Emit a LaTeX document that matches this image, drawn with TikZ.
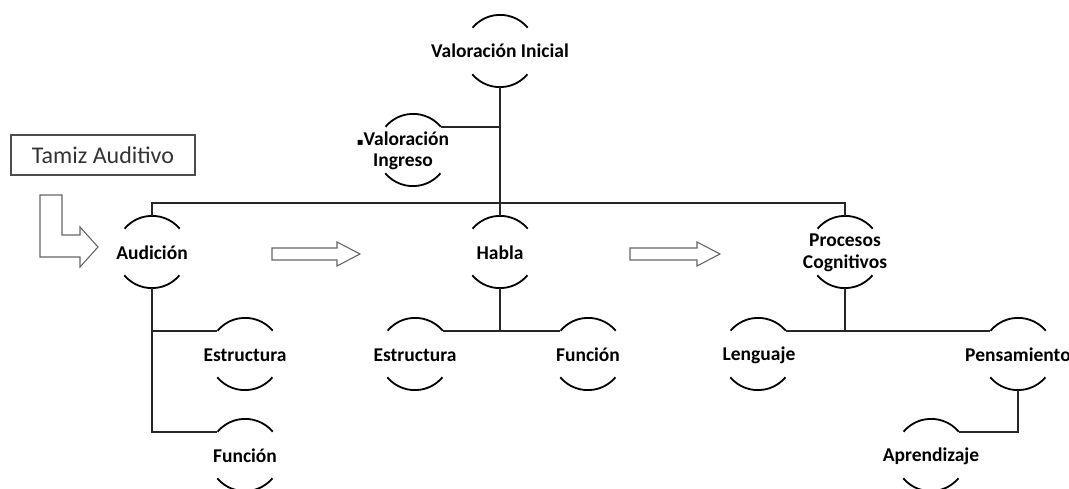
\documentclass[tikz,border=0pt]{standalone}
\usepackage{fontspec}
\setmainfont{Carlito}
\newfontfamily\symfont{DejaVu Sans}
\begin{document}
\begin{tikzpicture}[x=1pt,y=-1pt,
  circ/.style={circle,minimum size=72pt,inner sep=0pt,draw=none},
  lbl/.style={font=\bfseries\fontsize{19.5}{21.5}\selectfont,align=center,inner sep=0pt,text=black},
  arcline/.style={line width=1.8pt,black},
  conn/.style={line width=1.8pt,black!85},
  blockarrow/.style={draw=black!60,line width=1.1pt,fill=white,line join=miter},
  boxstyle/.style={draw=black!70,line width=1.1pt,minimum width=184pt,minimum height=40pt,inner sep=0pt,
    font=\fontsize{24}{26}\selectfont,text=black!80}]
\useasboundingbox (0,0) rectangle (1069,489);
\newcommand\bubble[4]{%
  \node[circ] (#1) at (#2) {};
  \node[lbl] (#1-t) at (#3) {#4};
  \draw[arcline] (#1.40) arc[start angle=40,end angle=140,radius=36pt];
  \draw[arcline] (#1.220) arc[start angle=220,end angle=320,radius=36pt];
}
% bubbles
\bubble{vi}{500,51}{500,51}{Valoración Inicial}
\bubble{vg}{413,150}{403,151}{{\symfont\normalsize ▪}Valoración\\Ingreso}
\bubble{au}{152,252}{152,253}{Audición}
\bubble{ha}{500,252}{500,253}{Habla}
\bubble{pc}{845,252}{845,253}{Procesos\\Cognitivos}
\bubble{ea}{245,354}{245,355}{Estructura}
\bubble{fa}{245,455}{245,456}{Función}
\bubble{eh}{415,354}{415,355}{Estructura}
\bubble{fh}{588,354}{588,355}{Función}
\bubble{le}{758,354}{759,355}{Lenguaje}
\bubble{pe}{1018,354}{1018,355}{Pensamiento}
\bubble{ap}{931,455}{931,456}{Aprendizaje}
\coordinate (top) at (500,203);
% connectors
\draw[conn] (vi.south) -- (top);
\draw[conn] (vg.40) -- (vg.40 -| vi.south);
\draw[conn] (au.north) -- (au.north |- top) -- (pc.north |- top) -- (pc.north);
\draw[conn] (ha.north) -- (ha.north |- top);
\draw[conn] (au.south) |- (ea.140);
\draw[conn] (au.south) |- (fa.140);
\draw[conn] (ha.south) -- (ha.south |- eh.40);
\draw[conn] (eh.40) -- (fh.140);
\draw[conn] (pc.south) -- (pc.south |- le.40);
\draw[conn] (le.40) -- (pe.140);
\draw[conn] (pe.south) |- (ap.40);
% Tamiz box
\node[boxstyle] (tz) at (103,155) {Tamiz Auditivo};
% bent arrow
\draw[blockarrow] (40,195) -- (62,195) -- (62,235) -- (80,235) -- (80,227) -- (98,247)
  -- (80,267) -- (80,257) -- (40,257) -- cycle;
% block arrows
\draw[blockarrow] (272,248) -- (337,248) -- (337,242) -- (360,254) -- (337,266) -- (337,260) -- (272,260) -- cycle;
\draw[blockarrow] (630,248) -- (697,248) -- (697,242) -- (720,254) -- (697,266) -- (697,260) -- (630,260) -- cycle;
\end{tikzpicture}
\end{document}
